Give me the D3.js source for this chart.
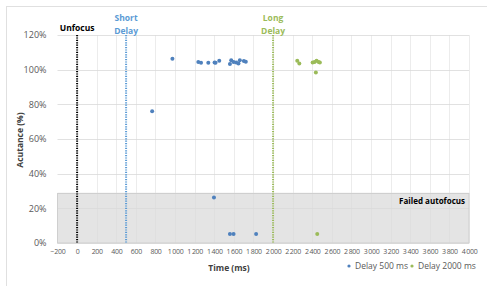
<!DOCTYPE html>
<html>
<head>
<meta charset="utf-8">
<script src="https://cdn.jsdelivr.net/npm/d3@7"></script>
<style>
  body { margin: 0; background: #fff; }
  svg { font-family: "Open Sans", "Liberation Sans", sans-serif; }
</style>
</head>
<body>
<svg id="chart"></svg>
<script>
var width = 487,
    height = 286;

// delay 500 ms series: [time ms, acutance %]
var delay500 = [
    [766, 76], [973, 106.3], [1237, 104.4], [1265, 104], [1339, 104],
    [1403, 104.2], [1413, 104], [1451, 105.2], [1560, 103.3], [1573, 105.4],
    [1597, 104.4], [1624, 104.2], [1647, 103.5], [1661, 105.4], [1702, 105],
    [1722, 104.6],
    [1397, 26.3], [1560, 5.2], [1597, 5.2], [1827, 5.2]
];
// delay 2000 ms series
var delay2000 = [
    [2247, 105.2], [2268, 103.6], [2404, 104.2], [2424, 104.4], [2444, 105.2],
    [2465, 104.4], [2478, 104.2], [2437, 98.4], [2451, 5.2]
];

var markers = [
    {t: 0, lines: ['Unfocus'], color: '#000000'},
    {t: 500, lines: ['Short', 'Delay'], color: '#5b9bd5'},
    {t: 2000, lines: ['Long', 'Delay'], color: '#9bbb59'}
];
var failThreshold = 29;

var xTicks = d3.range(-200, 4001, 200);
var yTicks = d3.range(0, 121, 20);
var seriesNames = ['Delay 500 ms', 'Delay 2000 ms'];
var seriesColors = ['#4f81bd', '#9bbb59'];

var margin = {left: 57, right: 18, top: 35, bottom: 43};

var x = d3.scaleLinear().domain([-200, 4000]).range([margin.left + 0.5, width - margin.right]);
var y = d3.scaleLinear().domain([0, 120]).range([height - margin.bottom, margin.top]);

var svg = d3.select('#chart').attr('width', width).attr('height', height);

// outer chart border
svg.append('rect')
    .attr('x', 6.5).attr('y', 6.5)
    .attr('width', width).attr('height', height)
    .attr('fill', 'none').attr('stroke', '#e0e0e0');

// failed autofocus band
svg.append('rect')
    .attr('x', x(-200)).attr('y', y(failThreshold))
    .attr('width', x(4000) - x(-200)).attr('height', y(0) - y(failThreshold))
    .attr('fill', '#e4e4e4');

// gridlines
svg.append('g')
    .selectAll('line').data(xTicks.slice(1)).enter().append('line')
        .attr('x1', d => Math.round(x(d)) + 0.5).attr('x2', d => Math.round(x(d)) + 0.5)
        .attr('y1', y(120)).attr('y2', y(0))
        .attr('stroke', '#d9d9d9').attr('stroke-opacity', 0.5);
svg.append('g')
    .selectAll('line').data(yTicks).enter().append('line')
        .attr('x1', x(-200)).attr('x2', x(4000))
        .attr('y1', d => Math.round(y(d)) + 0.5).attr('y2', d => Math.round(y(d)) + 0.5)
        .attr('stroke', '#d9d9d9').attr('stroke-opacity', 0.8);

// band border
svg.append('rect')
    .attr('x', x(-200)).attr('y', Math.round(y(failThreshold)) + 0.5)
    .attr('width', x(4000) - x(-200)).attr('height', y(0) - Math.round(y(failThreshold)) - 0.5)
    .attr('fill', 'none').attr('stroke', '#cfcfcf');

svg.append('text')
    .attr('x', x(4000) - 4).attr('y', y(failThreshold) + 11)
    .attr('text-anchor', 'end')
    .attr('font-size', 8).attr('font-weight', 'bold')
    .text('Failed autofocus');

// axes
var fmt = d => d3.format(',')(d).replace(/,/g, '\u2009');
svg.append('g')
    .attr('transform', 'translate(0,' + (y(0) + 3) + ')')
    .call(d3.axisBottom(x).tickValues(xTicks).tickFormat(fmt).tickSize(0))
    .call(g => g.select('.domain').remove())
    .call(g => g.selectAll('text').attr('fill', '#595959').attr('font-size', 7)
        .attr('font-family', '"Open Sans", sans-serif').attr('letter-spacing', -0.3));

svg.append('g')
    .attr('transform', 'translate(' + (x(-200) - 8) + ',0)')
    .call(d3.axisLeft(y).tickValues(yTicks).tickFormat(d => d + '%').tickSize(0))
    .call(g => g.select('.domain').remove())
    .call(g => g.selectAll('text').attr('fill', '#595959').attr('font-size', 9)
        .attr('font-family', '"Open Sans", sans-serif'));

// axis titles
svg.append('text')
    .attr('x', 229).attr('y', 271)
    .attr('text-anchor', 'middle')
    .attr('font-size', 8.5).attr('font-weight', 'bold').attr('fill', '#404040')
    .text('Time (ms)');
svg.append('text')
    .attr('transform', 'translate(23,' + 140 + ') rotate(-90)')
    .attr('text-anchor', 'middle')
    .attr('font-size', 8.5).attr('font-weight', 'bold').attr('fill', '#404040')
    .text('Acutance (%)');

// marker lines
var mk = svg.append('g').selectAll('g').data(markers).enter().append('g');
mk.append('line')
    .attr('x1', d => x(d.t)).attr('x2', d => x(d.t))
    .attr('y1', y(120)).attr('y2', y(0))
    .attr('stroke', d => d.color).attr('stroke-width', 2)
    .attr('stroke-dasharray', '1.2,1.2');
mk.each(function(d) {
    var g = d3.select(this);
    var n = d.lines.length;
    d.lines.forEach((l, i) => {
        g.append('text')
            .attr('x', x(d.t)).attr('y', n == 1 ? 31 : 21 + i * 13)
            .attr('text-anchor', 'middle')
            .attr('font-size', 8.5).attr('font-weight', 'bold')
            .attr('fill', d.color)
            .text(l);
    });
});

// points
[delay500, delay2000].forEach((series, i) => {
    svg.append('g').selectAll('circle').data(series).enter().append('circle')
        .attr('cx', d => x(d[0]))
        .attr('cy', d => y(d[1]))
        .attr('r', 2)
        .attr('fill', seriesColors[i]);
});

// legend
var legend = svg.append('g').selectAll('g').data(seriesNames).enter().append('g')
    .attr('transform', (d, i) => 'translate(' + (349 + i * 63) + ',269)');
legend.append('circle').attr('cx', 0).attr('cy', -3).attr('r', 1.6)
    .attr('fill', (d, i) => seriesColors[i]);
legend.append('text').attr('x', 6).attr('y', 0)
    .attr('font-size', 8.5).attr('fill', '#595959')
    .text(d => d);
</script>
</body>
</html>
